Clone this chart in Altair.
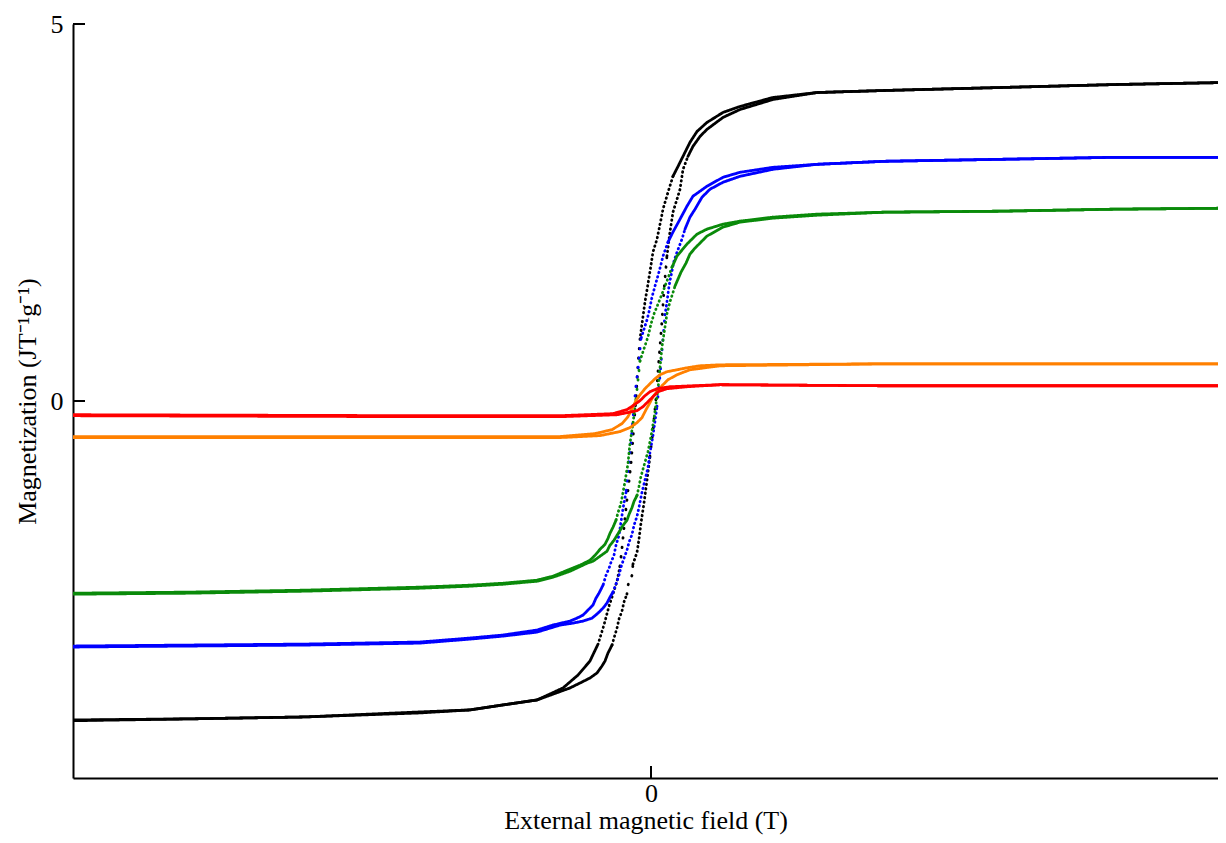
import altair as alt
import pandas as pd

# ---- data (field H, magnetization M) ----
black_down_H = [4.965, 4.014, 3.010, 2.016, 1.436, 1.055, 0.770, 0.623, 0.484, 0.398, 0.337, 0.277, 0.234, 0.190, 0.147, 0.104, 0.087, 0.052, 0.017, 0.0, -0.026, -0.052, -0.078, -0.095, -0.112, -0.130, -0.147, -0.156, -0.173, -0.199, -0.216, -0.234, -0.251, -0.268, -0.294, -0.329, -0.363, -0.407, -0.458, -0.528, -0.631, -0.761, -0.986, -1.280, -1.566, -2.0, -2.99, -4.0, -5.0]
black_down_M = [4.224, 4.197, 4.157, 4.118, 4.091, 4.025, 3.906, 3.827, 3.694, 3.575, 3.430, 3.245, 3.112, 2.980, 2.768, 2.544, 2.411, 2.147, 1.975, 1.803, 1.552, 1.313, 1.022, 0.824, 0.493, 0.017, -0.300, -0.499, -0.829, -1.186, -1.425, -1.689, -1.954, -2.192, -2.390, -2.562, -2.720, -2.972, -3.224, -3.449, -3.634, -3.806, -3.965, -4.031, -4.097, -4.124, -4.190, -4.216, -4.230]
black_up_H = [-5.0, -4.0, -2.99, -2.0, -1.566, -1.280, -0.986, -0.701, -0.614, -0.528, -0.467, -0.424, -0.398, -0.372, -0.337, -0.320, -0.294, -0.277, -0.251, -0.234, -0.208, -0.199, -0.164, -0.156, -0.121, -0.104, -0.087, -0.061, -0.035, -0.009, 0.017, 0.043, 0.069, 0.095, 0.112, 0.138, 0.164, 0.190, 0.225, 0.251, 0.277, 0.320, 0.363, 0.424, 0.484, 0.623, 0.770, 1.055, 1.436, 2.016, 3.010, 4.014, 4.965]
black_up_M = [-4.24, -4.216, -4.190, -4.137, -4.097, -4.031, -3.965, -3.806, -3.740, -3.674, -3.607, -3.515, -3.449, -3.343, -3.237, -3.144, -3.012, -2.893, -2.787, -2.668, -2.562, -2.443, -2.311, -2.165, -2.007, -1.835, -1.623, -1.359, -1.054, -0.737, -0.393, 0.030, 0.560, 1.062, 1.459, 1.922, 2.240, 2.504, 2.676, 2.808, 3.073, 3.245, 3.377, 3.509, 3.602, 3.761, 3.866, 3.999, 4.091, 4.118, 4.157, 4.197, 4.224]

blue_down_H = [4.965, 4.014, 3.010, 2.016, 1.436, 1.055, 0.770, 0.623, 0.484, 0.424, 0.363, 0.311, 0.251, 0.190, 0.147, 0.104, 0.087, 0.069, 0.035, 0.009, -0.017, -0.035, -0.087, -0.104, -0.130, -0.156, -0.173, -0.199, -0.216, -0.242, -0.260, -0.277, -0.303, -0.320, -0.346, -0.363, -0.389, -0.415, -0.450, -0.476, -0.502, -0.545, -0.588, -0.640, -0.701, -0.848, -0.986, -1.280, -1.566, -2.0, -2.99, -4.0, -5.0]
blue_down_M = [3.232, 3.232, 3.205, 3.179, 3.139, 3.099, 3.033, 2.967, 2.848, 2.782, 2.716, 2.583, 2.411, 2.240, 2.107, 1.922, 1.816, 1.710, 1.525, 1.380, 1.181, 1.075, 0.824, 0.533, 0.202, -0.234, -0.551, -0.922, -1.213, -1.425, -1.610, -1.782, -1.914, -2.046, -2.139, -2.218, -2.311, -2.443, -2.549, -2.615, -2.707, -2.773, -2.840, -2.880, -2.919, -2.972, -3.038, -3.104, -3.144, -3.197, -3.224, -3.237, -3.250]
blue_up_H = [-5.0, -4.0, -2.99, -2.0, -1.566, -1.280, -0.986, -0.787, -0.675, -0.588, -0.510, -0.458, -0.415, -0.381, -0.355, -0.329, -0.303, -0.277, -0.260, -0.234, -0.208, -0.190, -0.164, -0.147, -0.121, -0.104, -0.078, -0.026, -0.009, 0.017, 0.052, 0.078, 0.095, 0.121, 0.138, 0.156, 0.164, 0.199, 0.225, 0.268, 0.294, 0.337, 0.381, 0.441, 0.510, 0.623, 0.770, 1.055, 1.436, 2.016, 3.010, 4.014, 4.965]
blue_up_M = [-3.263, -3.250, -3.237, -3.211, -3.158, -3.118, -3.065, -2.972, -2.946, -2.919, -2.880, -2.813, -2.747, -2.681, -2.602, -2.535, -2.430, -2.311, -2.205, -2.086, -1.980, -1.874, -1.769, -1.649, -1.530, -1.412, -1.213, -0.882, -0.684, -0.459, -0.075, 0.335, 0.665, 1.142, 1.313, 1.525, 1.591, 1.856, 1.975, 2.147, 2.279, 2.438, 2.544, 2.702, 2.808, 2.901, 2.980, 3.073, 3.139, 3.179, 3.205, 3.232, 3.232]

green_down_H = [4.965, 4.014, 3.010, 2.016, 1.436, 1.055, 0.770, 0.623, 0.484, 0.398, 0.311, 0.225, 0.182, 0.138, 0.095, 0.061, 0.026, 0.0, -0.026, -0.061, -0.095, -0.112, -0.130, -0.156, -0.182, -0.199, -0.225, -0.242, -0.260, -0.285, -0.303, -0.329, -0.355, -0.372, -0.398, -0.441, -0.484, -0.528, -0.614, -0.701, -0.848, -0.986, -1.280, -1.566, -2.0, -2.99, -4.0, -5.0]
green_down_M = [2.557, 2.544, 2.517, 2.504, 2.478, 2.438, 2.385, 2.345, 2.279, 2.213, 2.081, 1.922, 1.776, 1.591, 1.419, 1.287, 1.155, 1.022, 0.851, 0.692, 0.533, 0.282, 0.017, -0.300, -0.565, -0.829, -1.067, -1.213, -1.359, -1.478, -1.583, -1.676, -1.755, -1.822, -1.901, -1.967, -2.046, -2.112, -2.178, -2.231, -2.324, -2.377, -2.417, -2.443, -2.469, -2.509, -2.535, -2.549]
green_up_H = [-5.0, -4.0, -2.99, -2.0, -1.566, -1.280, -0.986, -0.848, -0.701, -0.554, -0.502, -0.441, -0.381, -0.355, -0.320, -0.294, -0.268, -0.242, -0.208, -0.190, -0.164, -0.147, -0.121, -0.104, -0.087, -0.026, 0.0, 0.026, 0.061, 0.095, 0.112, 0.138, 0.164, 0.208, 0.260, 0.303, 0.337, 0.381, 0.484, 0.623, 0.770, 1.055, 1.436, 2.016, 3.010, 4.014, 4.965]
green_up_M = [-2.562, -2.549, -2.522, -2.483, -2.456, -2.430, -2.390, -2.337, -2.258, -2.152, -2.125, -2.059, -1.993, -1.914, -1.848, -1.782, -1.716, -1.649, -1.583, -1.504, -1.412, -1.332, -1.253, -1.134, -1.001, -0.670, -0.472, -0.234, 0.163, 0.718, 0.890, 1.155, 1.313, 1.525, 1.710, 1.829, 1.948, 2.028, 2.187, 2.306, 2.372, 2.425, 2.464, 2.504, 2.517, 2.544, 2.557]

orange_down_H = [4.965, 4.014, 2.016, 0.597, 0.424, 0.311, 0.225, 0.138, 0.078, 0.035, -0.009, -0.052, -0.095, -0.130, -0.164, -0.199, -0.251, -0.337, -0.484, -0.787, -2.0, -5.0]
orange_down_M = [0.493, 0.493, 0.493, 0.480, 0.467, 0.440, 0.414, 0.388, 0.348, 0.295, 0.229, 0.163, 0.083, 0.004, -0.102, -0.208, -0.300, -0.380, -0.433, -0.472, -0.472, -0.472]
orange_up_H = [-5.0, -2.0, -0.787, -0.441, -0.268, -0.182, -0.121, -0.078, -0.043, -0.009, 0.017, 0.052, 0.095, 0.147, 0.225, 0.337, 0.597, 2.016, 4.965]
orange_up_M = [-0.485, -0.485, -0.485, -0.459, -0.406, -0.353, -0.287, -0.221, -0.115, -0.022, 0.057, 0.123, 0.202, 0.282, 0.348, 0.414, 0.467, 0.493, 0.493]

red_down_H = [4.965, 2.016, 0.597, 0.363, 0.164, 0.052, -0.009, -0.052, -0.095, -0.156, -0.208, -0.329, -0.787, -2.0, -5.0]
red_down_M = [0.202, 0.202, 0.216, 0.202, 0.189, 0.163, 0.123, 0.070, 0.004, -0.062, -0.115, -0.168, -0.195, -0.195, -0.182]
red_up_H = [-5.0, -2.0, -0.787, -0.294, -0.208, -0.121, -0.069, -0.026, 0.017, 0.061, 0.138, 0.311, 0.597, 2.016, 4.965]
red_up_M = [-0.195, -0.208, -0.208, -0.182, -0.155, -0.128, -0.075, -0.009, 0.057, 0.123, 0.163, 0.189, 0.216, 0.202, 0.202]

series_names = ["black", "blue", "green", "orange", "red"]
series_colors = ["#000000", "#0000ff", "#0a8a0a", "#ff8000", "#ff0000"]

x_tick_values = [0]
y_tick_values = [0, 5]

FONT = "Liberation Serif"
W, H = 1145, 754
X_DOMAIN = [-5, 4.905]
Y_DOMAIN = [-5, 5]

# ---- build table: split each branch into runs drawn solid / dotted by steepness ----
branches = [
    ("black", "down", black_down_H, black_down_M), ("black", "up", black_up_H, black_up_M),
    ("blue", "down", blue_down_H, blue_down_M), ("blue", "up", blue_up_H, blue_up_M),
    ("green", "down", green_down_H, green_down_M), ("green", "up", green_up_H, green_up_M),
    ("orange", "down", orange_down_H, orange_down_M), ("orange", "up", orange_up_H, orange_up_M),
    ("red", "down", red_down_H, red_down_M), ("red", "up", red_up_H, red_up_M),
]
px_per_h = W / (X_DOMAIN[1] - X_DOMAIN[0])
px_per_m = H / (Y_DOMAIN[1] - Y_DOMAIN[0])

rows = []
for s, b, hs, ms in branches:
    styles = []
    for i in range(len(hs) - 1):
        dx = max(abs(hs[i + 1] - hs[i]) * px_per_h, 0.01)
        dy = abs(ms[i + 1] - ms[i]) * px_per_m
        r = dy / dx
        styles.append("steep" if r > 8 else ("mid" if r > 2.5 else "flat"))
    for i in range(1, len(styles) - 1):
        if styles[i - 1] == styles[i + 1] != styles[i]:
            styles[i] = styles[i - 1]
    run = 0
    for i in range(len(hs) - 1):
        if i > 0 and styles[i] != styles[i - 1]:
            run += 1
        key = f"{s}_{b}_{run}"
        rows.append({"series": s, "seg": key, "style": styles[i], "idx": i, "H": hs[i], "M": ms[i]})
        rows.append({"series": s, "seg": key, "style": styles[i], "idx": i + 1, "H": hs[i + 1], "M": ms[i + 1]})
df = pd.DataFrame(rows).drop_duplicates(subset=["seg", "idx"])

xscale = alt.Scale(domain=X_DOMAIN, nice=False, zero=False)
yscale = alt.Scale(domain=Y_DOMAIN, nice=False, zero=False)

lines = alt.Chart(df).mark_line(strokeWidth=2.8, strokeCap="round", clip=True).encode(
    x=alt.X("H:Q", scale=xscale,
            axis=alt.Axis(title="External magnetic field (T)", values=x_tick_values, ticks=False,
                          format="d", grid=False, domainColor="black", domainWidth=2,
                          labelColor="black", labelFont=FONT, labelFontSize=26, labelPadding=2,
                          titleFont=FONT, titleFontSize=26, titleFontWeight="normal",
                          titleColor="black", titlePadding=1)),
    y=alt.Y("M:Q", scale=yscale,
            axis=alt.Axis(title="Magnetization (JT⁻¹g⁻¹)", values=y_tick_values, ticks=False,
                          format="d", grid=False, domainColor="black", domainWidth=2,
                          labelColor="black", labelFont=FONT, labelFontSize=26, labelPadding=10,
                          titleFont=FONT, titleFontSize=26, titleFontWeight="normal",
                          titleColor="black", titlePadding=10)),
    color=alt.Color("series:N", scale=alt.Scale(domain=series_names, range=series_colors), legend=None),
    strokeDash=alt.StrokeDash("style:N",
                              scale=alt.Scale(domain=["flat", "mid", "steep"],
                                              range=[[1, 0], [0.5, 4], [0.5, 9]]),
                              legend=None),
    detail="seg:N",
    order="idx:Q",
)

ytick_df = pd.DataFrame({"v": y_tick_values})
xtick_df = pd.DataFrame({"v": x_tick_values})

yticks = alt.Chart(ytick_df).mark_rule(color="black", strokeWidth=2).encode(
    y=alt.Y("v:Q", scale=yscale), x=alt.value(0), x2=alt.value(12))
xticks = alt.Chart(xtick_df).mark_rule(color="black", strokeWidth=2).encode(
    x=alt.X("v:Q", scale=xscale), y=alt.value(H), y2=alt.value(H - 12))

chart = alt.layer(lines, yticks, xticks).properties(
    width=W, height=H,
    autosize=alt.AutoSizeParams(type="none"),
    padding={"left": 65, "top": 16, "right": 0, "bottom": 57},
    background="white",
).configure_view(stroke=None)

chart.save("out.html", embed_options={"renderer": "svg", "actions": False})
